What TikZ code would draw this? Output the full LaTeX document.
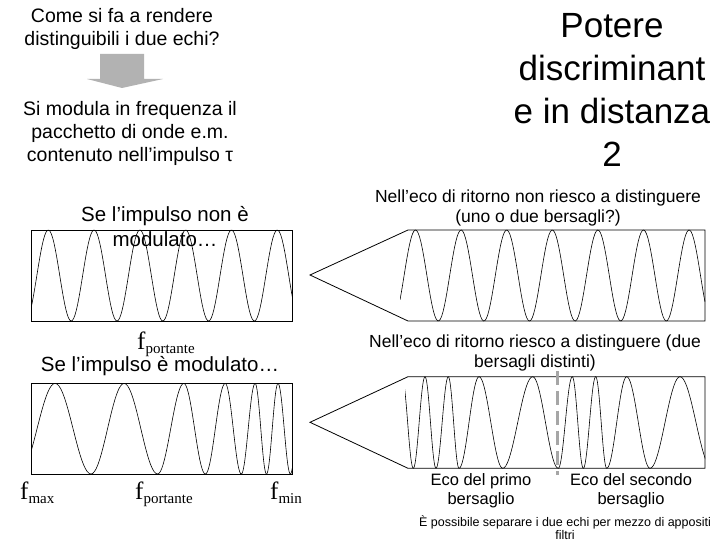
\documentclass[tikz,border=0pt]{standalone}
\usepackage{fontspec}
\setmainfont{Liberation Sans}
\newfontfamily\serif{Liberation Serif}
\begin{document}
\begin{tikzpicture}[x=1pt,y=-1pt,
  txt/.style={align=center,inner sep=0pt,font=\fontsize{19.5}{23}\selectfont},
  big/.style={align=center,inner sep=0pt,font=\fontsize{35}{43}\selectfont},
  mid/.style={align=center,inner sep=0pt,font=\fontsize{20.5}{25}\selectfont},
  sml/.style={align=center,inner sep=0pt,font=\fontsize{17.5}{20}\selectfont},
  frq/.style={inner sep=0pt,anchor=base west,font=\serif\fontsize{25}{25}\selectfont},
  box/.style={draw,line width=0.8pt},
  wave/.style={line width=0.6pt}]
\useasboundingbox (0,0) rectangle (720,540);
% texts
\node[txt] (q) at (122,29) {Come si fa a rendere\\distinguibili i due echi?};
\node[txt] (m) at (130,133) {Si modula in frequenza il\\pacchetto di onde e.m.\\contenuto nell’impulso τ};
\node[big] (p) at (612,90) {Potere\\discriminant\\e in distanza\\2};
\node[mid] (s1) at (165,227) {Se l’impulso non è\\modulato…};
\node[sml] (n1) at (538,208) {Nell’eco di ritorno non riesco a distinguere\\(uno o due bersagli?)};
\node[mid] (s2) at (160,366) {Se l’impulso è modulato…};
\node[sml] (n2) at (535,353) {Nell’eco di ritorno riesco a distinguere (due\\bersagli distinti)};
\node[sml,font=\fontsize{16.5}{19}\selectfont] (e1) at (481,491) {Eco del primo\\bersaglio};
\node[sml,font=\fontsize{16.5}{19}\selectfont] (e2) at (631,491) {Eco del secondo\\bersaglio};
\node[align=center,inner sep=0pt,font=\fontsize{12.5}{13}\selectfont] (fl) at (565,528) {È possibile separare i due echi per mezzo di appositi\\filtri};
\node[frq] (fp1) at (137,349) {f\raisebox{-4pt}{\fontsize{15}{15}\selectfont portante}};
\node[frq] (fmx) at (20,499) {f\raisebox{-4pt}{\fontsize{15}{15}\selectfont max}};
\node[frq] (fp2) at (135,499) {f\raisebox{-4pt}{\fontsize{15}{15}\selectfont portante}};
\node[frq] (fmn) at (270,499) {f\raisebox{-4pt}{\fontsize{15}{15}\selectfont min}};
% gray arrow
\fill[gray!60] (100,54) -- (144,54) -- (144,79) -- (163,79) -- (122,88) -- (87,79) -- (100,79) -- cycle;
% boxes
\draw[box] (31.7,230) rectangle (292.7,321);
\draw[box] (31.7,383.3) rectangle (292.7,474);
\draw[box] (705,230) -- (408,230) -- (310,275) -- (408,321) -- (705,321) -- cycle;
\draw[box] (705,376.7) -- (408,376.7) -- (310,422.3) -- (408,468.3) -- (705,468.3) -- cycle;
% waves
\begin{scope}
\clip (31.7,228) rectangle (292.7,323);
\draw[wave,domain=31.7:292.7,samples=200] plot (\x,{275.5-45.5*cos((\x-48.3)/45.8*360)});
\end{scope}
\begin{scope}
\clip (400,228) rectangle (705,323);
\draw[wave,domain=400:705,samples=220] plot (\x,{275.5-45.5*cos((\x-415.5)/45.6*360)});
\end{scope}
\begin{scope}
\clip (31.7,381) rectangle (292.7,476);
\foreach \a/\b/\s in {19/55.1/-1,55.1/91/1,91/124.1/-1,124.1/157.6/1,157.6/183.8/-1,183.8/205.4/1,205.4/225.2/-1,225.2/241.3/1,241.3/255.1/-1,255.1/266.5/1,266.5/278/-1,278/290.4/1,290.4/302/-1}
  \draw[wave,domain=0:180,samples=20] plot ({\a+(\b-\a)*\x/180},{428.7-\s*45.3*cos(\x)});
\end{scope}
\begin{scope}
\clip (405,375) rectangle (705,470);
\foreach \a/\b/\s in {402/413.3/1,413.3/425/-1,425/436/1,436/448.3/-1,448.3/459/1,459/479/-1,479/502.7/1,502.7/532.7/-1,532.7/558.3/1,558.3/572.3/-1,572.3/583.3/1,583.3/595.7/-1,595.7/606.7/1,606.7/626.7/-1,626.7/650/1,650/680/-1,680/712/1}
  \draw[wave,domain=0:180,samples=20] plot ({\a+(\b-\a)*\x/180},{422.5-\s*45.8*cos(\x)});
\end{scope}
% dashed separator
\coordinate (d1) at (557.7,371);
\coordinate (d2) at (557.7,475);
\draw[gray!70,line width=3.5pt,dash pattern=on 14pt off 6pt] (d1) -- (d2);
\end{tikzpicture}
\end{document}
